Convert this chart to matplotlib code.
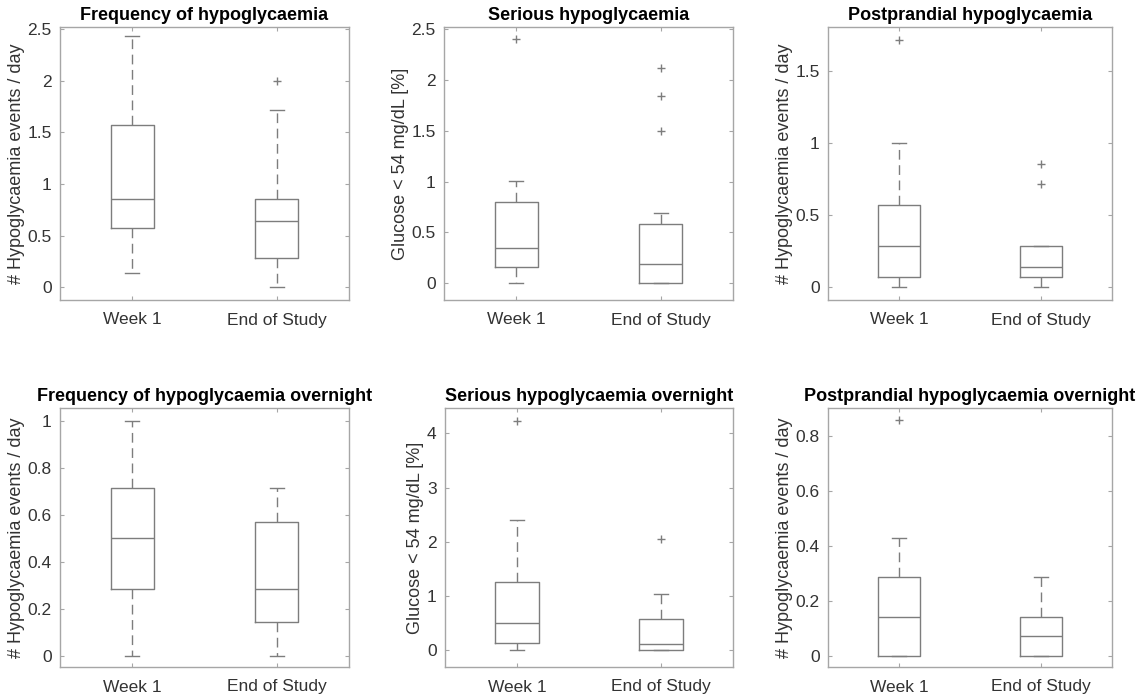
import numpy as np
import matplotlib
matplotlib.use("Agg")
import matplotlib.pyplot as plt
from matplotlib.ticker import FormatStrFormatter

plt.rcParams['font.family'] = ['Liberation Sans', 'DejaVu Sans']

groups = ["Week 1", "End of Study"]

titles = ["Frequency of hypoglycaemia", "Serious hypoglycaemia", "Postprandial hypoglycaemia",
          "Frequency of hypoglycaemia overnight", "Serious hypoglycaemia overnight",
          "Postprandial hypoglycaemia overnight"]
ylabels = ["# Hypoglycaemia events / day", "Glucose < 54 mg/dL [%]", "# Hypoglycaemia events / day",
           "# Hypoglycaemia events / day", "Glucose < 54 mg/dL [%]", "# Hypoglycaemia events / day"]

# per panel: [Week 1, End of Study]
whislo = [[0.143, 0.0], [0.0, 0.0], [0.0, 0.0], [0.0, 0.0], [0.0, 0.0], [0.0, 0.0]]
q1 = [[0.571, 0.286], [0.157, 0.0], [0.0714, 0.0714], [0.286, 0.143], [0.136, 0.0], [0.0, 0.0]]
med = [[0.857, 0.643], [0.344, 0.187], [0.286, 0.143], [0.5, 0.286], [0.493, 0.123], [0.143, 0.0714]]
q3 = [[1.571, 0.857], [0.80, 0.58], [0.571, 0.286], [0.714, 0.571], [1.26, 0.573], [0.286, 0.143]]
whishi = [[2.429, 1.714], [1.006, 0.695], [1.0, 0.286], [1.0, 0.714], [2.40, 1.03], [0.429, 0.286]]
fliers = [[[], [2.0]], [[2.40], [1.5, 1.84, 2.12]], [[1.714], [0.714, 0.857]],
          [[], []], [[4.23], [2.05]], [[0.857], []]]

ylims = [(-0.123, 2.52), (-0.164, 2.52), (-0.088, 1.805), (-0.047, 1.054), (-0.31, 4.47), (-0.04, 0.902)]
yticks = [np.arange(0, 2.6, 0.5), np.arange(0, 2.6, 0.5), np.arange(0, 1.6, 0.5),
          np.arange(0, 1.01, 0.2), np.arange(0, 4.1, 1), np.arange(0, 0.81, 0.2)]

# axes boxes in pixels: left, top, right, bottom
W, H = 1144, 694
boxes = [(60, 27, 349, 300), (444, 27, 733, 300), (828, 27, 1112, 300),
         (60, 408, 349, 667), (445, 408, 733, 667), (828, 408, 1112, 667)]

line_c = "#7d7d7d"
frame_c = "#a6a6a6"
text_c = "#333333"

fig = plt.figure(figsize=(W / 100, H / 100), dpi=100)

for i in range(6):
    l, t, r, b = boxes[i]
    ax = fig.add_axes([l / W, 1 - b / H, (r - l) / W, (b - t) / H])
    stats = []
    for j in range(2):
        stats.append(dict(whislo=whislo[i][j], q1=q1[i][j], med=med[i][j], q3=q3[i][j],
                          whishi=whishi[i][j], fliers=fliers[i][j]))
    ax.bxp(stats, positions=[1, 2], widths=0.3, capwidths=0.1, showfliers=True,
           boxprops=dict(color=line_c, linewidth=1),
           medianprops=dict(color=line_c, linewidth=1),
           whiskerprops=dict(color=line_c, linewidth=1, linestyle=(0, (7, 4))),
           capprops=dict(color=line_c, linewidth=1),
           flierprops=dict(marker='+', markeredgecolor=line_c, markersize=5.5, markeredgewidth=1))
    ax.set_xlim(0.5, 2.5)
    ax.set_ylim(*ylims[i])
    ax.set_yticks(yticks[i])
    ax.yaxis.set_major_formatter(FormatStrFormatter('%g'))
    ax.set_xticks([1, 2])
    ax.set_xticklabels(groups)
    ax.tick_params(direction='in', top=True, right=True, length=3, width=0.8,
                   color=frame_c, labelcolor=text_c, labelsize=12.5, pad=6)
    ax.tick_params(axis='x', pad=9)
    for s in ax.spines.values():
        s.set_color(frame_c)
        s.set_linewidth(1)
    ax.set_title(titles[i], fontsize=13, fontweight='bold', color='black', pad=5)
    ax.set_ylabel(ylabels[i], fontsize=13, color=text_c, labelpad=2)

fig.savefig("out.png", dpi=100, facecolor='white')
